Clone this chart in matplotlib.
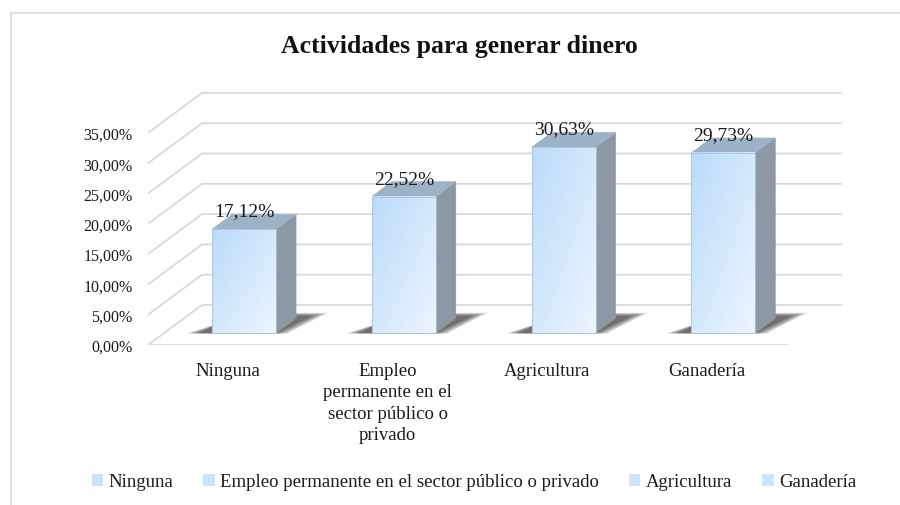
import numpy as np
import matplotlib
matplotlib.use("Agg")
import matplotlib.pyplot as plt
from matplotlib.patches import Polygon, Patch
from matplotlib.lines import Line2D

plt.rcParams['font.family'] = ['Liberation Serif', 'DejaVu Serif']

# data
categories = ['Ninguna', 'Empleo permanente en el sector público o privado',
              'Agricultura', 'Ganadería']
tick_labels = ['Ninguna', 'Empleo\npermanente en el\nsector público o\nprivado',
               'Agricultura', 'Ganadería']
values = [17.12, 22.52, 30.63, 29.73]
y_ticks = [0, 5, 10, 15, 20, 25, 30, 35]

# pseudo 3D geometry (depth offsets in data units)
DX, DY = 0.338, 6.6
D0, D1 = 0.30, 0.67   # bar front / back depth
HALF = 0.20           # half bar width


def proj(x, v, d):
    return (x + d * DX, v + d * DY)


fig = plt.figure(figsize=(9, 5.06), dpi=100)
ax = fig.add_axes([148 / 900, 1 - 346 / 506, 695 / 900, 253 / 506])
for s in ax.spines.values():
    s.set_visible(False)

# outer frame (only left and top visible)
fig.add_artist(Line2D([10.5 / 900, 10.5 / 900], [0, 1 - 14 / 506],
                      transform=fig.transFigure, color='#d9d9d9', lw=1.2))
fig.add_artist(Line2D([10.5 / 900, 1], [1 - 14 / 506, 1 - 14 / 506],
                      transform=fig.transFigure, color='#d9d9d9', lw=1.2))

# grid: back wall lines + side diagonals + front floor edge
grid_c = '#d9d9d9'
for v in y_ticks:
    x0, y0 = proj(-0.5, v, 0)
    x1, y1 = proj(-0.5, v, 1)
    x2, y2 = proj(3.5, v, 1)
    ax.plot([x0, x1, x2], [y0, y1, y2], color=grid_c, lw=1.3, zorder=1)
fx0, fy0 = proj(-0.5, 0, 0)
fx1, fy1 = proj(3.5, 0, 0)
ax.plot([fx0, fx1], [fy0, fy1], color=grid_c, lw=1.3, zorder=1)

# gradient for the front faces
gx, gy = np.meshgrid(np.linspace(0, 1, 60), np.linspace(0, 1, 120))
t = np.clip((gx + gy) / 2, 0, 1)[..., None]
c_tl = np.array([0.73, 0.86, 0.98])
c_br = np.array([0.93, 0.96, 1.0])
grad = c_tl * (1 - t) + c_br * t

for i, v in enumerate(values):
    xl, xr = i - HALF, i + HALF
    # soft shadow on the floor
    for k in range(6):
        m = 0.015 * (5 - k)
        pts = [proj(xl - 0.08 - m, 0, D0 - 0.01),
               proj(xr + m, 0, D0 - 0.01),
               proj(xr + 0.08 + m, 0, D1 + 0.06 + m),
               proj(xl + m, 0, D1 + 0.06 + m)]
        ax.add_patch(Polygon(pts, closed=True, facecolor='#1a1a1a',
                             edgecolor='none', alpha=0.15, zorder=2))
    # side face
    side = [proj(xr, 0, D0), proj(xr, 0, D1), proj(xr, v, D1), proj(xr, v, D0)]
    ax.add_patch(Polygon(side, closed=True, facecolor='#8d98a5',
                         edgecolor='#8d98a5', lw=0.5, zorder=3))
    # top face
    top = [proj(xl, v, D0), proj(xr, v, D0), proj(xr, v, D1), proj(xl, v, D1)]
    ax.add_patch(Polygon(top, closed=True, facecolor='#9db1c7',
                         edgecolor='#9db1c7', lw=0.5, zorder=3))
    # front face with gradient
    ax0, ay0 = proj(xl, 0, D0)
    ax1, ay1 = proj(xr, v, D0)
    ax.imshow(grad, extent=[ax0, ax1, ay0, ay1], origin='upper',
              aspect='auto', zorder=4)
    ax.plot([ax0, ax0, ax1, ax1, ax0], [ay0, ay1, ay1, ay0, ay0],
            color='#a9c3dc', lw=0.6, zorder=5)
    # data label
    ax.text(i + D0 * DX, v + 5.0, f'{v:.2f}%'.replace('.', ','),
            ha='center', va='center', fontsize=14, color='#1a1a1a', zorder=6)

ax.set_xlim(-0.5, -0.5 + 695 / 159.75)
ax.set_ylim(0, 253 / 6.06)

ax.set_yticks(y_ticks)
ax.set_yticklabels([f'{v:.2f}%'.replace('.', ',') for v in y_ticks])
ax.tick_params(axis='y', length=0, pad=11, labelsize=11.5, labelcolor='#1a1a1a')
ax.set_xticks(range(len(categories)))
ax.set_xticklabels(tick_labels, linespacing=1.35)
ax.tick_params(axis='x', length=0, pad=12, labelsize=13.5, labelcolor='#1a1a1a')

fig.text(459 / 900, 1 - 47 / 506, 'Actividades para generar dinero',
         ha='center', va='center', fontsize=18.5, fontweight='bold', color='#111111')

handles = [Patch(facecolor='#cfe4fb', edgecolor='none') for _ in categories]
fig.legend(handles, categories, loc='center', bbox_to_anchor=(474 / 900, 1 - 483 / 506),
           ncol=4, frameon=False, fontsize=13.5, handlelength=0.6, handleheight=0.6,
           handletextpad=0.3, columnspacing=1.6, labelcolor='#1a1a1a')

plt.savefig('out.png', dpi=100)
